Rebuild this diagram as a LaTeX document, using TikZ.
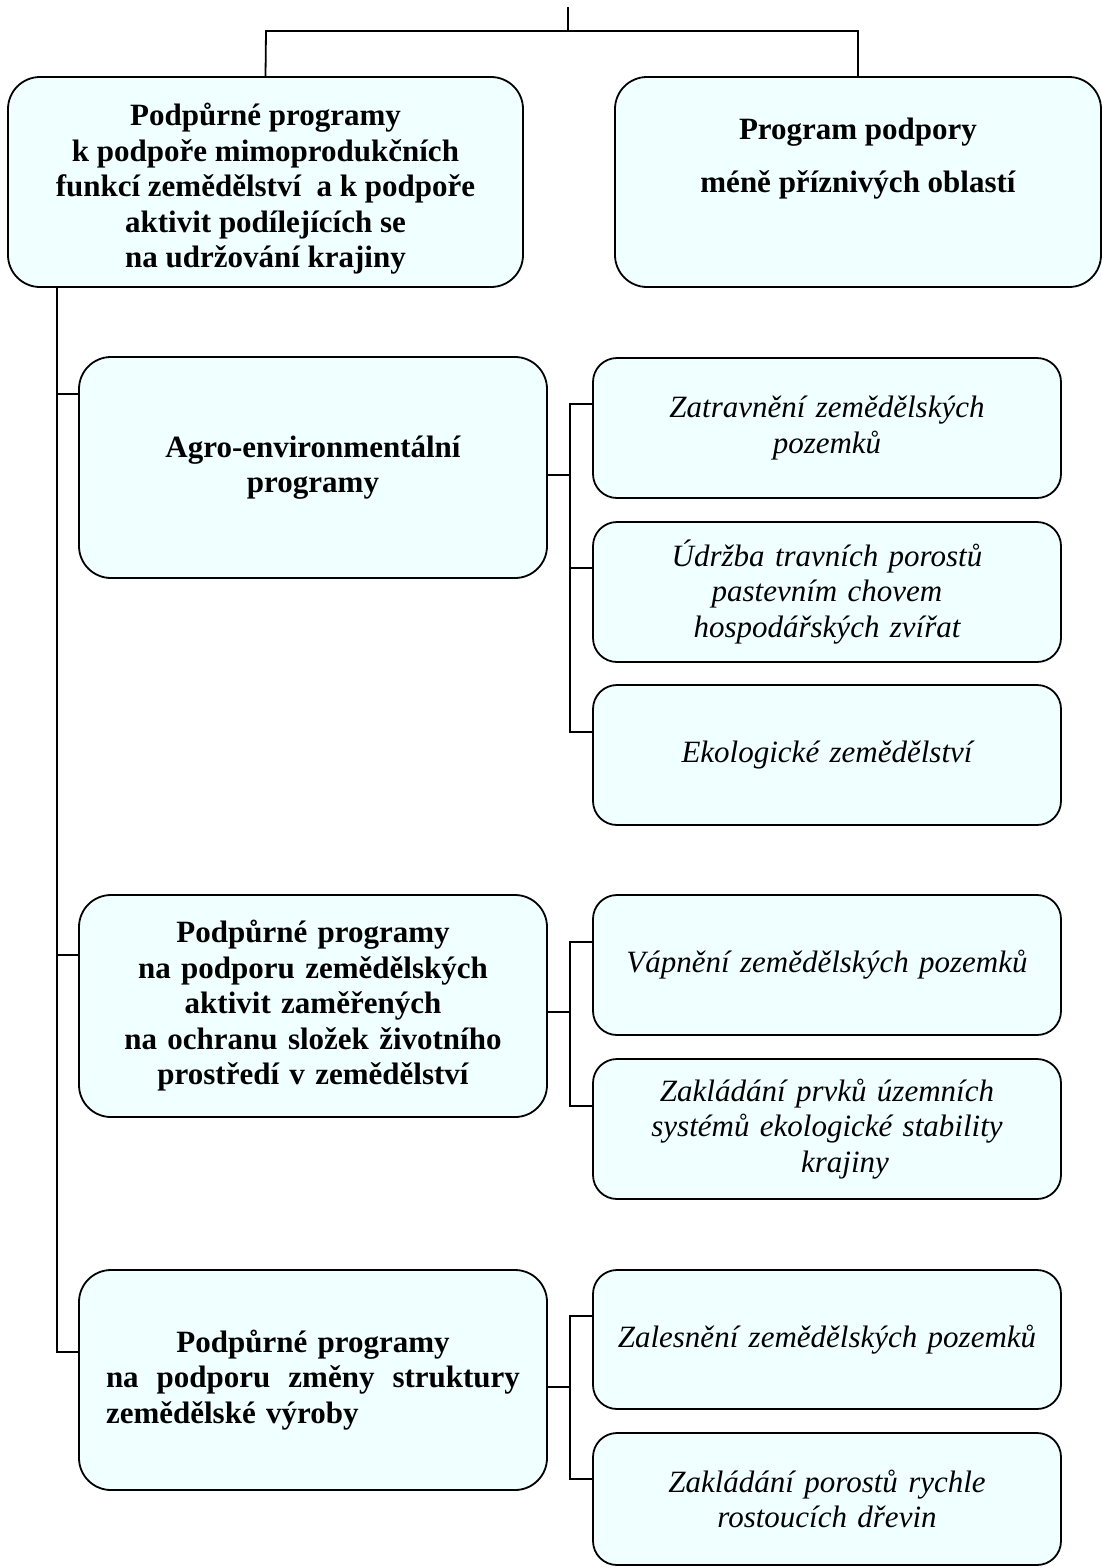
\documentclass[tikz,border=0pt]{standalone}
\usepackage{fontspec}
\setmainfont{Liberation Serif}
\definecolor{boxfill}{RGB}{240,255,255}
\tikzset{
  box/.style={draw=black, line width=1.8pt, fill=boxfill, rounded corners=32pt, inner sep=0pt, align=center},
  boldtext/.style={font=\fontsize{31}{35.5}\selectfont\bfseries},
  itext/.style={font=\fontsize{31}{35.5}\selectfont\itshape},
  bigbox/.style={box, boldtext, minimum width=468pt, minimum height=221pt, text width=460pt},
  smallbox/.style={box, itext, rounded corners=24pt, minimum width=468pt, minimum height=140pt, text width=460pt},
  txt/.style={inner sep=0pt, align=center},
  conn/.style={line width=1.8pt, draw=black}
}
\begin{document}
\begin{tikzpicture}[x=1pt,y=-1pt]
\useasboundingbox (0,0) rectangle (1102,1567);

% top level boxes
\node[box, minimum width=515pt, minimum height=210pt] (A) at (265.5,182) {};
\node[txt, boldtext] (At) at (265.5,189) {Podpůrné programy\\k podpoře mimoprodukčních\\funkcí zemědělství\ \ a k podpoře\\aktivit podílejících se\\na udržování krajiny};
\node[box, minimum width=486pt, minimum height=210pt] (B) at (858,182) {};
\node[txt, boldtext] (Bt) at (858,159) {Program podpory\\[17.5pt]méně příznivých oblastí};

% left column
\node[bigbox] (C1) at (313,467.5) {Agro-environmentální\\programy};
\node[bigbox, minimum height=222pt] (C2) at (313,1006) {Podpůrné programy\\na podporu zemědělských\\aktivit zaměřených\\na ochranu složek životního\\prostředí v zemědělství};
\node[bigbox, minimum height=220pt] (C3) at (313,1380) {Podpůrné programy\\\makebox[414pt]{na\hfill podporu\hfill změny\hfill struktury}\\\makebox[414pt][l]{zemědělské výroby}};

% right column
\node[smallbox] (R1) at (827,428) {Zatravnění zemědělských\\pozemků};
\node[smallbox] (R2) at (827,592) {Údržba travních porostů\\pastevním chovem\\hospodářských zvířat};
\node[smallbox] (R3) at (827,755) {Ekologické zemědělství};
\node[smallbox] (R4) at (827,965) {Vápnění zemědělských pozemků};
\node[smallbox] (R5) at (827,1129) {Zakládání prvků územních\\systémů ekologické stability\\\hspace*{36pt}krajiny};
\node[smallbox, minimum height=139pt] (R6) at (827,1339.5) {Zalesnění zemědělských pozemků};
\node[smallbox, minimum height=132pt] (R7) at (827,1499) {Zakládání porostů rychle\\rostoucích dřevin};

% top connectors
\coordinate (top) at (568,7);
\coordinate (jl) at (266,31);
\coordinate (jr) at (858,31);
\draw[conn] (top) -- (top |- jl);
\draw[conn] (A.north) -- (jl) -- (jr) -- (B.north);

% left spine
\coordinate (sp) at (57,0);
\coordinate (c1l) at (79,394);
\coordinate (c2l) at (79,955);
\coordinate (c3l) at (79,1352);
\draw[conn] (A.south -| sp) |- (c3l);
\draw[conn] (c1l) -- (c1l -| sp);
\draw[conn] (c2l) -- (c2l -| sp);

% right brackets, group 1
\coordinate (c1r) at (547,475);
\coordinate (b1) at (570,475);
\coordinate (r1t) at (593,404);
\coordinate (r2t) at (593,568);
\coordinate (r3t) at (593,732);
\draw[conn] (c1r) -- (b1);
\draw[conn] (r1t) -- (r1t -| b1) -- (r3t -| b1) -- (r3t);
\draw[conn] (r2t) -- (r2t -| b1);

% group 2
\coordinate (c2r) at (547,1012);
\coordinate (b2) at (570,1012);
\coordinate (r4t) at (593,942);
\coordinate (r5t) at (593,1106);
\draw[conn] (c2r) -- (b2);
\draw[conn] (r4t) -- (r4t -| b2) -- (r5t -| b2) -- (r5t);

% group 3
\coordinate (c3r) at (547,1387);
\coordinate (b3) at (570,1387);
\coordinate (r6t) at (593,1316);
\coordinate (r7t) at (593,1479);
\draw[conn] (c3r) -- (b3);
\draw[conn] (r6t) -- (r6t -| b3) -- (r7t -| b3) -- (r7t);
\end{tikzpicture}
\end{document}
